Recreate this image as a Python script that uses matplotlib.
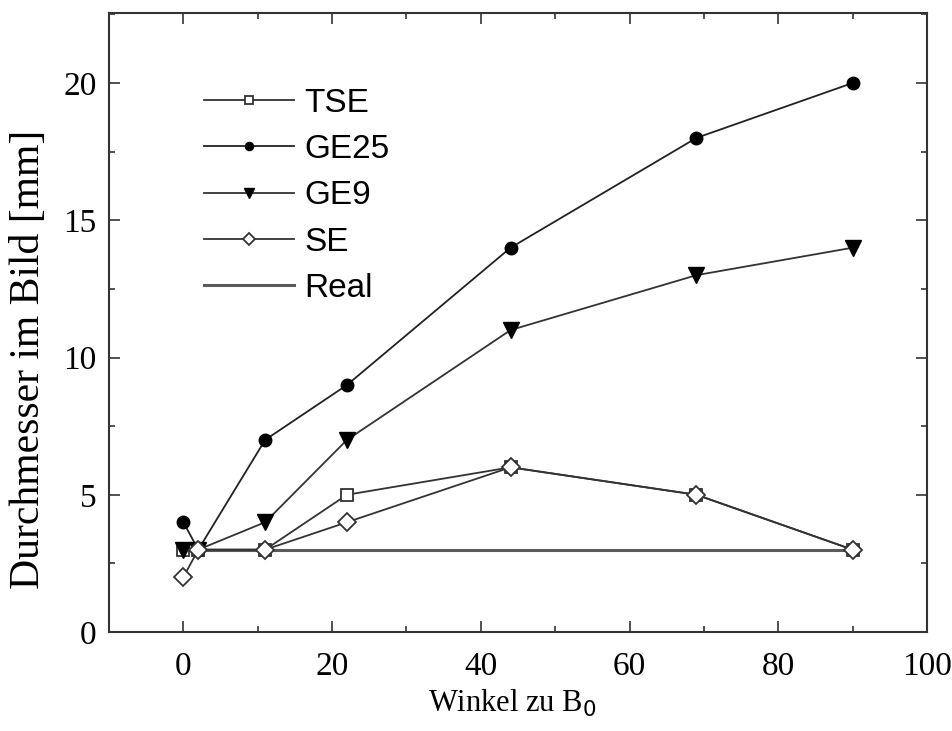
import matplotlib
matplotlib.use("Agg")
import matplotlib.pyplot as plt
from matplotlib.ticker import MultipleLocator

# data
winkel = [0, 2, 11, 22, 44, 69, 90]
tse = [3, 3, 3, 5, 6, 5, 3]
ge25 = [4, 3, 7, 9, 14, 18, 20]
ge9 = [3, 3, 4, 7, 11, 13, 14]
se = [2, 3, 3, 4, 6, 5, 3]
real_x = [0, 90]
real_y = [3, 3]

serif = ["Liberation Serif", "DejaVu Serif"]
sans = ["Liberation Sans", "DejaVu Sans"]

fig = plt.figure(figsize=(9.53, 7.31), dpi=100)
ax = fig.add_axes([0.1144, 0.1354, 0.8583, 0.8468])

ax.plot(real_x, real_y, color="#5a5a5a", lw=2.2, label="Real", zorder=1)
ax.plot(winkel, tse, color="#333333", lw=1.3, marker="s", ms=9,
        mfc="white", mec="#333333", mew=1.3, label="TSE", zorder=2)
ax.plot(winkel, ge25, color="#222222", lw=1.3, marker="o", ms=9,
        mfc="black", mec="black", label="GE25", zorder=3)
ax.plot(winkel, ge9, color="#333333", lw=1.3, marker="v", ms=11,
        mfc="black", mec="black", label="GE9", zorder=3)
ax.plot(winkel, se, color="#333333", lw=1.3, marker="D", ms=9,
        mfc="white", mec="#333333", mew=1.3, label="SE", zorder=4)

ax.set_xlim(-10, 100)
ax.set_ylim(0, 22.55)
ax.xaxis.set_major_locator(MultipleLocator(20))
ax.xaxis.set_minor_locator(MultipleLocator(10))
ax.yaxis.set_major_locator(MultipleLocator(5))
ax.yaxis.set_minor_locator(MultipleLocator(2.5))
ax.tick_params(which="both", direction="in", top=True, right=True,
               width=1.2, color="#333333")
ax.tick_params(which="major", length=8, labelsize=24)
ax.tick_params(axis="x", which="major", pad=14)
ax.tick_params(axis="y", which="major", pad=9)
ax.tick_params(which="minor", length=4)
for lab in ax.get_xticklabels() + ax.get_yticklabels():
    lab.set_family(serif)
for s in ax.spines.values():
    s.set_linewidth(1.5)
    s.set_color("#333333")

ax.set_xlabel("Winkel zu B$_0$", fontsize=22, family=serif)
ax.xaxis.set_label_coords(0.493, -0.09)
ax.set_ylabel("Durchmesser im Bild [mm]", fontsize=30, family=serif)
ax.yaxis.set_label_coords(-0.075, 0.44)

handles, labels = ax.get_legend_handles_labels()
order = [1, 2, 3, 4, 0]
leg = ax.legend([handles[i] for i in order], [labels[i] for i in order],
                loc="upper left", bbox_to_anchor=(0.08, 0.928), frameon=False,
                prop={"family": sans, "size": 24}, handlelength=2.7,
                labelspacing=0.46, handletextpad=0.3, markerscale=0.65)

fig.savefig("out.png", dpi=100)
